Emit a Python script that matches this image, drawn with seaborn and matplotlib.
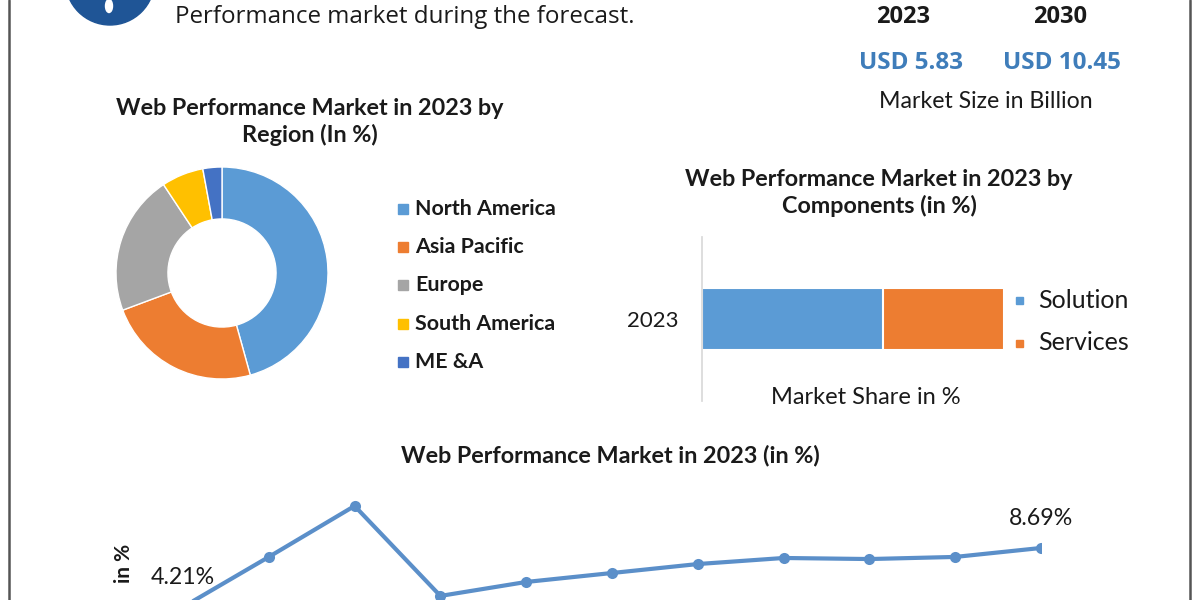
import numpy as np
import pandas as pd
import matplotlib
matplotlib.use("Agg")
import matplotlib.pyplot as plt
from matplotlib.patches import Circle, Rectangle, Ellipse
import seaborn as sns

regions = ["North America", "Asia Pacific", "Europe", "South America", "ME &A"]
region_share = [45.7, 23.6, 21.4, 6.4, 2.9]
region_colors = ["#5B9BD5", "#ED7D31", "#A5A5A5", "#FFC000", "#4472C4"]

components = ["Solution", "Services"]
component_share = [60, 40]
component_colors = ["#5B9BD5", "#ED7D31"]
bar_year = "2023"

trend_idx = list(range(11))
trend_values = [4.21, 8.01, 11.88, 5.05, 6.11, 6.79, 7.47, 7.93, 7.85, 8.01, 8.69]
trend_labels = {0: "4.21%", 10: "8.69%"}

market_years = ["2023", "2030"]
market_sizes = ["USD 5.83", "USD 10.45"]

W, H = 1200, 600
sns.set_theme(style="white")
plt.rcParams["font.family"] = ["Lato", "DejaVu Sans"]
TXT = "#1a1a1a"
OPEN = ["Open Sans", "DejaVu Sans"]


def box(x0, y0, x1, y1):
    # pixel box (top-left origin) -> figure rect
    return [x0 / W, 1 - y1 / H, (x1 - x0) / W, (y1 - y0) / H]


fig = plt.figure(figsize=(12, 6), dpi=100)
fig.patch.set_facecolor("white")

# overlay canvas in pixel coordinates for text / decoration (on top, no background)
cv = fig.add_axes([0, 0, 1, 1], zorder=10)
cv.set_xlim(0, W); cv.set_ylim(H, 0); cv.axis("off")

# frame lines
cv.plot([9, 9], [0, H], color="#555555", lw=1.8)
cv.plot([1190, 1190], [0, H], color="#555555", lw=1.8)

# logo (cut off at top)
cv.add_patch(Circle((110, -19.5), 44.5, color="#1F5596", zorder=2))
cv.add_patch(Ellipse((109, 6), 7, 13, color="white", zorder=3))

cv.text(175, 17, "Performance market during the forecast.", fontsize=17.4,
        family=OPEN, color=TXT, va="center", ha="left")

# market size block
for x, yr in zip([903, 1060], market_years):
    cv.text(x, 17, yr, fontsize=17, fontweight="bold", color=TXT, ha="center", va="center",
            family=OPEN)
for x, usd in zip([911, 1062], market_sizes):
    cv.text(x, 63, usd, fontsize=17.5, fontweight="bold", color="#3F7DBA",
            ha="center", va="center", family=OPEN)
cv.text(986, 102, "Market Size in Billion", fontsize=16.7, color=TXT, ha="center", va="center")

# --- donut by region ---
cv.text(310, 122, "Web Performance Market in 2023 by\nRegion (In %)", fontsize=16.8,
        fontweight="bold", color=TXT, ha="center", va="center", linespacing=1.3)
ax_d = fig.add_axes(box(116, 167, 328, 379))
ax_d.pie(region_share, colors=region_colors, startangle=90, counterclock=False,
         wedgeprops=dict(width=0.49, edgecolor="white", linewidth=1))
ax_d.set_xlim(-1, 1); ax_d.set_ylim(-1, 1)
for i, (name, col) in enumerate(zip(regions, region_colors)):
    y = 209 + i * 38.2
    cv.add_patch(Rectangle((398, y - 5), 10, 10, color=col))
    cv.text(415, y, name, fontsize=15.4, fontweight="bold", color=TXT, ha="left", va="center")

# --- stacked bar by components ---
cv.text(879, 193, "Web Performance Market in 2023 by\nComponents (in %)", fontsize=16.8,
        fontweight="bold", color=TXT, ha="center", va="center", linespacing=1.3)
df_c = pd.DataFrame({"year": [bar_year] * 2, "component": components,
                     "share": component_share})
df_c["cum"] = df_c["share"].cumsum()
ax_b = fig.add_axes(box(702, 237, 1004, 401))
ax_b.set_facecolor("none")
for i in reversed(range(len(df_c))):
    sns.barplot(data=df_c.iloc[[i]], x="cum", y="year", color=component_colors[i],
                orient="h", width=0.38, edgecolor="white", linewidth=1.5, ax=ax_b,
                saturation=1)
ax_b.set_xlim(0, 100)
ax_b.set_xticks([])
ax_b.set_xlabel(""); ax_b.set_ylabel("")
for s in ["top", "right", "bottom"]:
    ax_b.spines[s].set_visible(False)
ax_b.spines["left"].set_color("#D9D9D9")
ax_b.tick_params(axis="y", length=0, pad=17, labelsize=16, labelcolor=TXT)
cv.text(866, 398, "Market Share in %", fontsize=17, color=TXT, ha="center", va="center")
for i, (name, col) in enumerate(zip(components, component_colors)):
    y = 300 + i * 43
    cv.add_patch(Rectangle((1016, y - 3.5), 7, 7, color=col))
    cv.text(1038, y, name, fontsize=18, color=TXT, ha="left", va="center")

# --- line chart (cut off at bottom) ---
cv.text(610, 455, "Web Performance Market in 2023 (in %)", fontsize=16.8, fontweight="bold",
        color=TXT, ha="center", va="center")
ax_l = fig.add_axes(box(183, 480, 1041, 650))
ax_l.set_facecolor("none")
sns.lineplot(x=trend_idx, y=trend_values, color="#5B8FC9", lw=3, marker="o",
             markersize=8, markeredgewidth=0, ax=ax_l)
ax_l.set_xlim(0, 10)
ax_l.set_ylim(0.945, 13.85)
ax_l.axis("off")
for i, lab in trend_labels.items():
    ax_l.annotate(lab, (trend_idx[i], trend_values[i]), xytext=(0, 21), textcoords="offset points",
                  ha="center", va="center", fontsize=16.7, color=TXT)
cv.text(124, 563, "in %", fontsize=15, fontweight="bold", color=TXT, rotation=90,
        ha="center", va="center")

fig.savefig("out.png", dpi=100)
